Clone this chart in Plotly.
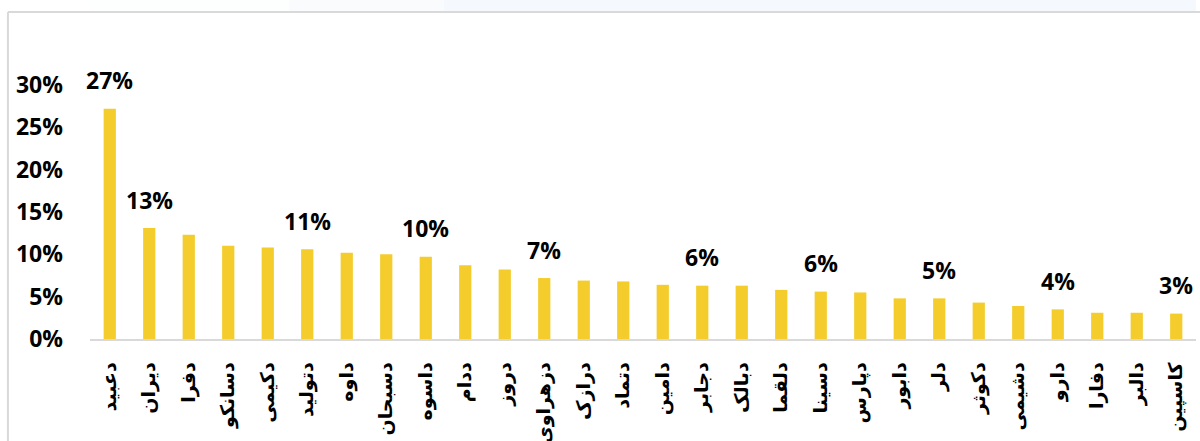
import plotly.graph_objects as go

categories = ["دعبید", "دیران", "دفرا", "دسانکو", "دکیمی", "دتولید", "داوه", "دسبحان",
              "داسوه", "ددام", "دروز", "دزهراوی", "درازک", "دتماد", "دامین", "دجابر",
              "دبالک", "دلقما", "دسینا", "دپارس", "دابور", "دلر", "دکوثر", "دشیمی",
              "دارو", "دفارا", "دالبر", "کاسپین"]
values = [0.272, 0.131, 0.123, 0.110, 0.108, 0.106, 0.102, 0.100,
          0.097, 0.087, 0.082, 0.072, 0.069, 0.068, 0.064, 0.063,
          0.063, 0.058, 0.056, 0.055, 0.048, 0.048, 0.043, 0.039,
          0.035, 0.031, 0.031, 0.030]
labels = ["27%", "13%", "", "", "", "11%", "", "",
          "10%", "", "", "7%", "", "", "", "6%",
          "", "", "6%", "", "", "5%", "", "",
          "4%", "", "", "3%"]
y_ticks = [0, 0.05, 0.10, 0.15, 0.20, 0.25, 0.30]

BAR = "#F4CD2C"
NUMFONT = "Open Sans"
ARFONT = "DejaVu Sans"

fig = go.Figure()
fig.add_trace(go.Bar(
    x=categories, y=values,
    marker=dict(color=BAR, line=dict(width=0)),
    width=0.31,
    hoverinfo="x+y",
    cliponaxis=False,
))

for c, v, t in zip(categories, values, labels):
    if t:
        fig.add_annotation(x=c, y=v, text=t, showarrow=False,
                           yanchor="middle", yshift=28.5,
                           font=dict(family=NUMFONT, size=23, color="#000", weight="bold"))

# light page tint above the chart frame
steps = [("#fdfefe", 0.0, 0.18), ("#f9fbfd", 0.18, 0.32), ("#f5f9fd", 0.32, 1.0)]
for col, x0, x1 in steps:
    fig.add_shape(type="rect", xref="paper", yref="paper",
                  x0=x0, x1=x1, y0=1.29, y1=1.40, fillcolor=col,
                  line=dict(width=0), layer="below")

fig.update_layout(
    width=1200, height=441,
    margin=dict(l=90, r=4, t=85, b=102, autoexpand=False),
    paper_bgcolor="white", plot_bgcolor="white",
    showlegend=False,
    font=dict(family=NUMFONT, color="#000"),
    xaxis=dict(
        tickangle=-90,
        tickfont=dict(family=ARFONT, size=19, color="#000", weight="bold"),
        showline=True, linecolor="#d9d9d9", linewidth=1.5,
        showgrid=False, ticks="", ticklabelstandoff=14,
        range=[-0.5, 27.5], fixedrange=True, automargin=False,
    ),
    yaxis=dict(
        range=[0, 0.30],
        tickvals=y_ticks, tickformat=".0%",
        tickfont=dict(family=NUMFONT, size=23, color="#000", weight="bold"),
        showgrid=False, showline=False, zeroline=False,
        ticks="", ticklabelstandoff=26, automargin=False,
    ),
)

# chart frame lines (top and left)
fig.add_shape(type="line", xref="paper", yref="paper",
              x0=-0.0742, x1=1.01, y0=1.2874, y1=1.2874,
              line=dict(color="#d9d9d9", width=2), layer="below")
fig.add_shape(type="line", xref="paper", yref="paper",
              x0=-0.0742, x1=-0.0742, y0=1.2874, y1=-0.5,
              line=dict(color="#d9d9d9", width=2), layer="below")

fig.write_html("out.html",
               config={"displayModeBar": False},
               post_script="document.body.style.margin='0';document.body.style.overflow='hidden';")
